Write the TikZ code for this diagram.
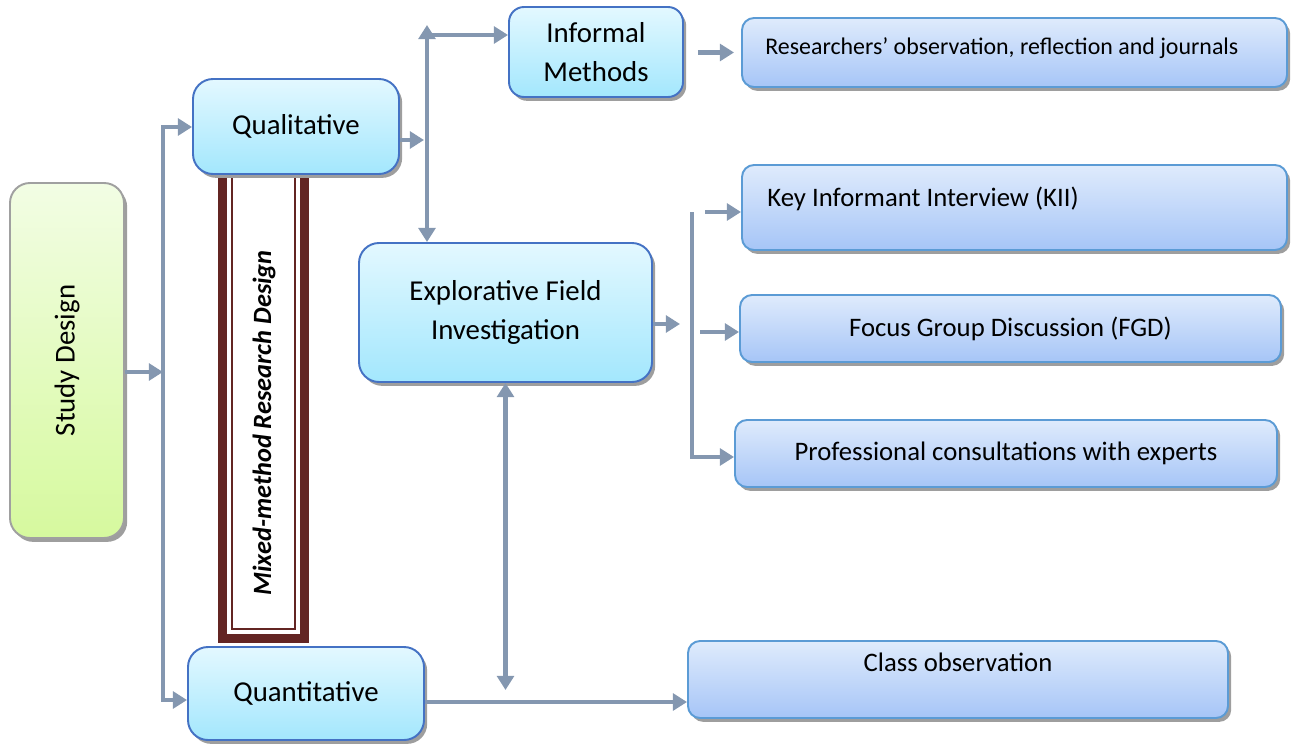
\documentclass[tikz,border=0pt]{standalone}
\usepackage{fontspec}
\setmainfont{Carlito}
\usepackage{tikz}
\usetikzlibrary{arrows.meta,positioning,shadows}
\tikzset{>={Triangle[length=8pt,width=9.5pt]}}
\definecolor{arrowgray}{HTML}{8497B0}
\definecolor{framered}{HTML}{632523}
\definecolor{mainline}{HTML}{4472C4}
\definecolor{subline}{HTML}{5B9BD5}
\tikzstyle{shadowed} = [drop shadow={shadow xshift=1.8pt, shadow yshift=-2.2pt, fill=black!38, opacity=1}]
\tikzstyle{mainbox} = [draw=mainline, line width=1.1pt, rounded corners=0.4cm, top color={rgb,255:red,227;green,248;blue,255}, bottom color={rgb,255:red,163;green,231;blue,253}, shadowed, align=center, inner sep=0pt, font=\fontsize{16.4}{22}\selectfont]
\tikzstyle{subbox} = [draw=subline, line width=1.1pt, rounded corners=0.24cm, top color={rgb,255:red,223;green,235;blue,252}, bottom color={rgb,255:red,166;green,197;blue,247}, shadowed, align=center, inner sep=0pt, font=\fontsize{15.2}{18}\selectfont]
\tikzstyle{subtext} = [font=\fontsize{15.2}{18}\selectfont, inner sep=0pt]
\tikzstyle{arr} = [->, draw=arrowgray, line width=2.8pt]

\begin{document}
\begin{tikzpicture}
    \useasboundingbox (0, 0) rectangle (25.84, -14.90);
    % mixed-method frame, its top runs under the qualitative box
    \draw[framered, line width=5.1pt] (4.45, -3.00) -- (4.45, -12.77) -- (6.09, -12.77) -- (6.09, -3.00);
    \draw[framered, line width=1.1pt] (4.64, -3.00) -- (4.64, -12.58) -- (5.90, -12.58) -- (5.90, -3.00);
    \node[rotate=90, inner sep=0pt, font=\fontsize{15}{18}\selectfont\bfseries\itshape](MM) at (5.28, -8.46) {Mixed-method Research Design};

    \node[mainbox, draw={rgb,255:red,160;green,160;blue,160}, top color={rgb,255:red,242;green,253;blue,228}, bottom color={rgb,255:red,214;green,249;blue,158}, minimum width=2.28cm, minimum height=7.10cm](SD) at (1.34, -7.21) {\rotatebox{90}{Study Design}};
    \node[mainbox, minimum width=4.12cm, minimum height=1.90cm](QL) at (5.92, -2.53) {Qualitative};
    \node[mainbox, minimum width=4.72cm, minimum height=1.86cm](QN) at (6.12, -13.87) {Quantitative};
    \node[mainbox, rounded corners=0.3cm, minimum width=3.48cm, minimum height=1.80cm](IM) at (11.92, -1.04) {Informal\\Methods};
    \node[mainbox, minimum width=5.86cm, minimum height=2.78cm](EF) at (10.11, -6.25) {Explorative Field\\Investigation};

    \node[subbox, minimum width=10.90cm, minimum height=1.38cm,
          label={[subtext, font=\fontsize{13.6}{16}\selectfont, anchor=west, xshift=0.48cm, yshift=0.08cm]west:Researchers’ observation, reflection and journals}](RO) at (20.29, -1.05) {};
    \node[subbox, minimum width=10.90cm, minimum height=1.70cm,
          label={[subtext, anchor=west, xshift=0.52cm, yshift=0.17cm]west:Key Informant Interview (KII)}](KII) at (20.29, -4.15) {};
    \node[subbox, minimum width=10.82cm, minimum height=1.34cm](FGD) at (20.21, -6.57) {Focus Group Discussion (FGD)};
    \node[subbox, minimum width=10.84cm, minimum height=1.34cm](PC) at (20.12, -9.07) {Professional consultations with experts};
    \node[subbox, minimum width=10.80cm, minimum height=1.54cm,
          label={[subtext, yshift=0.35cm]center:Class observation}](CO) at (19.16, -13.59) {};

    % left spine
    \coordinate (l0) at (3.26, -7.44);
    \coordinate (l1) at (3.26, -2.54);
    \coordinate (l2) at (3.26, -14.00);
    \draw[arr] (SD.east |- l0) -- (l0);
    \draw[arr] (l0) -- (l1) -- (l1 -| QL.west);
    \draw[arr] (l0) -- (l2) -- (l2 -| QN.west);

    % middle spine
    \coordinate (m0) at (8.48, -2.80);
    \coordinate (m1) at (8.54, -0.50);
    \coordinate (m2) at (8.54, -0.70);
    \draw[arr] (QL.east |- m0) -- (m0);
    \draw[arr, <->] (m1) -- (m1 |- EF.north);
    \draw[arr] (m2) -- (m2 -| IM.west);
    \draw[arr, shorten <=0.28cm, shorten >=0.14cm] (IM.east |- RO.west) -- (RO.west);

    % right spine
    \coordinate (e0) at (13.60, -6.48);
    \coordinate (r0) at (13.84, -4.24);
    \coordinate (r1) at (13.84, -9.14);
    \coordinate (f0) at (14.00, -6.64);
    \draw[arr] (EF.east |- e0) -- (e0);
    \draw[arr] (r0) -- (r1) -- (r1 -| PC.west);
    \draw[arr, shorten <=0.26cm] (r0) -- (r0 -| KII.west);
    \draw[arr] (f0) -- (f0 -| FGD.west);

    % bottom
    \coordinate (b0) at (10.12, -13.80);
    \coordinate (q0) at (8.00, -14.04);
    \draw[arr, <->] (EF.south) -- (EF.south |- b0);
    \draw[arr] (QN.east |- q0) -- (q0 -| CO.west);
\end{tikzpicture}
\end{document}
